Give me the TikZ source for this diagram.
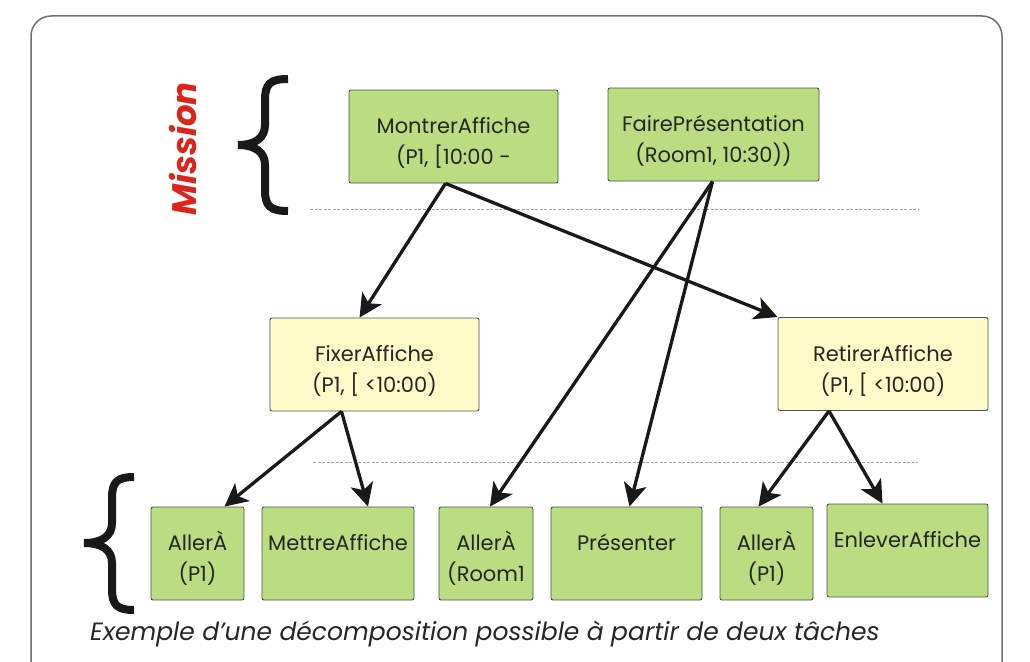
\documentclass[tikz,border=0pt]{standalone}
\usepackage{fontspec}
\setmainfont{Poppins}
\usepackage{tikz}
\usetikzlibrary{arrows.meta,positioning}
\usepackage{xcolor}
\definecolor{tkgreen}{RGB}{185,221,128}
\definecolor{tkyellow}{RGB}{255,251,200}
\definecolor{tkborder}{RGB}{80,80,80}
\definecolor{tkred}{RGB}{218,36,28}
\definecolor{tkframe}{RGB}{110,110,110}
\definecolor{tkdash}{RGB}{160,160,160}
\tikzstyle{arrow} = [line width=3.3pt,-{Stealth[length=23pt,width=23pt,inset=6pt]},color=black!90]
\tikzstyle{task} = [rectangle, draw=tkborder, line width=0.9pt, rounded corners=2pt, inner sep=0pt, minimum height=93pt, align=center, text height=74.5pt, text depth=18.5pt, text=black!85, font=\fontsize{21}{31}\selectfont]
\tikzstyle{topbox} = [task, fill=tkgreen]
\tikzstyle{midbox} = [task, fill=tkyellow]
\tikzstyle{brace} = [line width=8pt, color=black!90]
\tikzstyle{sep} = [line width=1pt, color=tkdash, dash pattern=on 3pt off 1.5pt]

\begin{document}
\begin{tikzpicture}[x=1pt, y=-1pt]
    \useasboundingbox (0,0) rectangle (1030,661);
    \draw[tkframe, line width=1.5pt, rounded corners=20pt] (31,670) -- (31,16) -- (1002,16) -- (1002,670);

    % Mission level
    \node[rotate=90, text=tkred, font=\fontsize{34}{34}\selectfont\bfseries\itshape] (mission) at (183,149) {Mission};
    \draw[brace] (288,79) .. controls (270,79) and (265,84) .. (265,100) -- (265,125) .. controls (265,138) and (255,145) .. (238,145) .. controls (255,145) and (265,152) .. (265,165) -- (265,190) .. controls (265,206) and (270,211) .. (288,211);
    \node[topbox, minimum width=209pt] (show) at (453.5,136.5) {MontrerAffiche\\(P1, [10:00 -};
    \node[topbox, minimum width=211pt] (talk) at (713.5,134.5) {FairePrésentation\\(Room1, 10:30))};
    \draw[sep] (310,209) -- (918,209);

    % Intermediate tasks
    \node[midbox, minimum width=209pt] (fix) at (374.5,364.5) {FixerAffiche\\(P1, [ <10:00)};
    \node[midbox, minimum width=210pt] (take) at (883,364) {RetirerAffiche\\(P1, [ <10:00)};
    \draw[sep] (313,462) -- (918,462);

    % Primitive actions
    \draw[brace] (134,477) .. controls (117,477) and (112,482) .. (112,498) -- (112,523) .. controls (112,536) and (102,543) .. (84,543) .. controls (102,543) and (112,550) .. (112,563) -- (112,589) .. controls (112,605) and (117,610) .. (134,610);
    \node[topbox, minimum width=93pt] (go1) at (197.5,553.5) {AllerÀ\\(P1)};
    \node[topbox, minimum width=152pt] (put) at (338,553.5) {MettreAffiche\\~};
    \node[topbox, minimum width=94pt] (go2) at (486,553.5) {AllerÀ\\(Room1};
    \node[topbox, minimum width=151pt] (pres) at (626.5,553.5) {Présenter\\~};
    \node[topbox, minimum width=93pt] (go3) at (766.5,553.5) {AllerÀ\\(P1)};
    \node[topbox, minimum width=161pt] (remove) at (907.5,550.5) {EnleverAffiche\\~};

    % Decomposition
    \draw[arrow] ([xshift=-8pt]show.south) -- ([xshift=-15pt]fix.north);
    \draw[arrow] ([xshift=-8pt]show.south) -- (take.north west);
    \draw[arrow] ([xshift=-1pt]talk.south) -- ([xshift=4pt]go2.north);
    \draw[arrow] ([xshift=-1pt]talk.south) -- ([xshift=3pt]pres.north);
    \draw[arrow] ([xshift=-33pt]fix.south) -- ([xshift=27pt]go1.north);
    \draw[arrow] ([xshift=-33pt]fix.south) -- ([xshift=30pt]put.north);
    \draw[arrow] ([xshift=-54pt]take.south) -- ([xshift=-8pt]go3.north);
    \draw[arrow] ([xshift=-54pt]take.south) -- ([xshift=-25pt]remove.north);

    % Caption
    \node[anchor=base west, inner sep=0pt, font=\fontsize{25}{25}\selectfont\itshape, text=black!85] (caption) at (90,640) {Exemple d’une décomposition possible à partir de deux tâches};
\end{tikzpicture}
\end{document}
